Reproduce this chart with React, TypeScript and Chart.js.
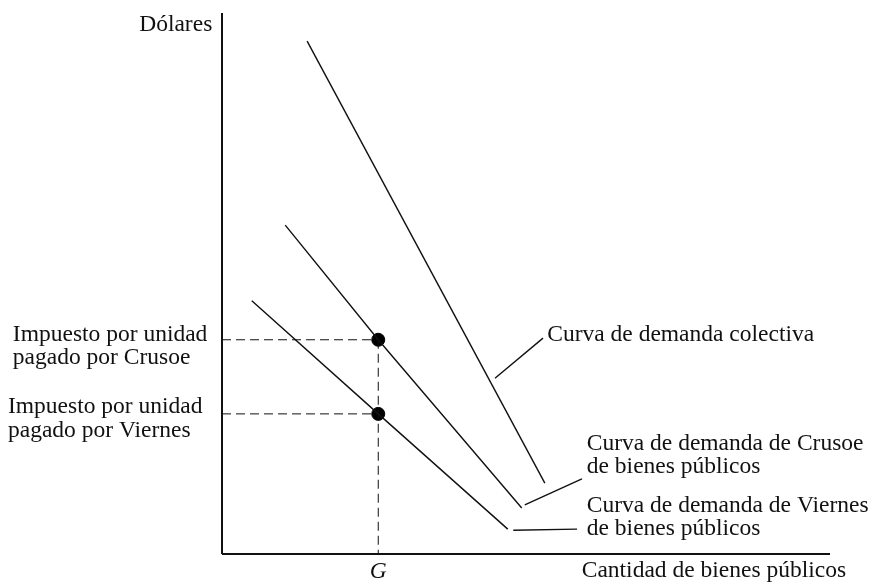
import React, { useEffect, useRef } from "react";
import { Chart, registerables } from "chart.js";

Chart.register(...registerables);

// Axis ranges (abstract units)
const Q_MAX = 100;
const P_MAX = 100;

// Demand curves (quantity, price)
const collectiveQ = [14.0, 53.1];
const collectiveP = [94.8, 13.1];
const crusoeQ = [10.4, 25.7, 49.3];
const crusoeP = [60.8, 39.6, 8.5];
const viernesQ = [4.9, 25.7, 47.0];
const viernesP = [46.8, 25.9, 4.6];

// Equilibrium quantity and taxes per unit
const G = 25.7;
const taxCrusoe = 39.6;
const taxViernes = 25.9;

// Leader lines from labels to curves
const leaderCollectiveQ = [44.9, 52.8];
const leaderCollectiveP = [32.5, 39.9];
const leaderCrusoeQ = [49.8, 59.2];
const leaderCrusoeP = [9.1, 13.9];
const leaderViernesQ = [47.9, 58.4];
const leaderViernesP = [4.4, 4.6];

// Text annotations (anchored in data units)
const labelTexts = [
  "Dólares",
  "Impuesto por unidad",
  "pagado por Crusoe",
  "Impuesto por unidad",
  "pagado por Viernes",
  "Curva de demanda colectiva",
  "Curva de demanda de Crusoe",
  "de bienes públicos",
  "Curva de demanda de Viernes",
  "de bienes públicos",
  "Cantidad de bienes públicos",
  "G",
];
const labelQ = [-1.6, -34.4, -34.4, -35.2, -35.2, 53.5, 60.0, 60.0, 60.0, 60.0, 80.9, G];
const labelP = [96.7, 39.4, 35.1, 26.1, 21.6, 39.4, 19.2, 15.0, 7.8, 3.5, -4.3, -4.4];
const labelAlign = ["right", "left", "left", "left", "left", "left", "left", "left", "left", "left", "center", "center"];

const pts = (xs: number[], ys: number[]) => xs.map((x, i) => ({ x, y: ys[i] }));

const FONT = '"Liberation Serif", "Times New Roman", serif';

const textPlugin = {
  id: "textLabels",
  afterDatasetsDraw(chart: any) {
    const { ctx, scales } = chart;
    ctx.save();
    ctx.fillStyle = "#111";
    ctx.textBaseline = "alphabetic";
    labelTexts.forEach((t, i) => {
      ctx.font = (t === "G" ? "italic " : "") + "23.5px " + FONT;
      ctx.textAlign = labelAlign[i] as CanvasTextAlign;
      ctx.fillText(t, scales.x.getPixelForValue(labelQ[i]), scales.y.getPixelForValue(labelP[i]));
    });
    ctx.restore();
  },
};

export default function App() {
  const ref = useRef<HTMLCanvasElement | null>(null);

  useEffect(() => {
    if (!ref.current) return;
    const solid = (data: any[], width = 1.4) => ({
      type: "line" as const,
      data,
      showLine: true,
      borderColor: "#111",
      borderWidth: width,
      pointRadius: 0,
      fill: false,
      tension: 0,
      clip: false as any,
    });
    const dashed = (data: any[]) => ({
      ...solid(data, 1),
      borderDash: [9, 5],
    });
    const chart = new Chart(ref.current, {
      type: "scatter",
      data: {
        datasets: [
          solid(pts([0, 0], [0, P_MAX]), 2),
          solid(pts([0, Q_MAX], [0, 0]), 2),
          dashed(pts([0, G], [taxCrusoe, taxCrusoe])),
          dashed(pts([0, G], [taxViernes, taxViernes])),
          dashed(pts([G, G], [taxCrusoe, 0])),
          solid(pts(collectiveQ, collectiveP)),
          solid(pts(crusoeQ, crusoeP)),
          solid(pts(viernesQ, viernesP)),
          solid(pts(leaderCollectiveQ, leaderCollectiveP)),
          solid(pts(leaderCrusoeQ, leaderCrusoeP)),
          solid(pts(leaderViernesQ, leaderViernesP)),
          {
            type: "scatter" as const,
            data: pts([G, G], [taxCrusoe, taxViernes]),
            pointRadius: 6.5,
            pointBackgroundColor: "#000",
            pointBorderColor: "#000",
            showLine: false,
            clip: false as any,
          },
        ] as any,
      },
      options: {
        animation: false,
        responsive: false,
        devicePixelRatio: 1,
        layout: { padding: { left: 222, right: 43, top: 13, bottom: 29 } },
        plugins: { legend: { display: false }, tooltip: { enabled: false } },
        events: [],
        scales: {
          x: { type: "linear", min: 0, max: Q_MAX, display: false },
          y: { type: "linear", min: 0, max: P_MAX, display: false },
        },
      },
      plugins: [textPlugin],
    });
    return () => chart.destroy();
  }, []);

  return (
    <div style={{ position: "fixed", left: 0, top: 0, width: 873, height: 583, background: "#fff" }}>
      <canvas ref={ref} width={873} height={583} style={{ width: 873, height: 583, display: "block" }} />
    </div>
  );
}
